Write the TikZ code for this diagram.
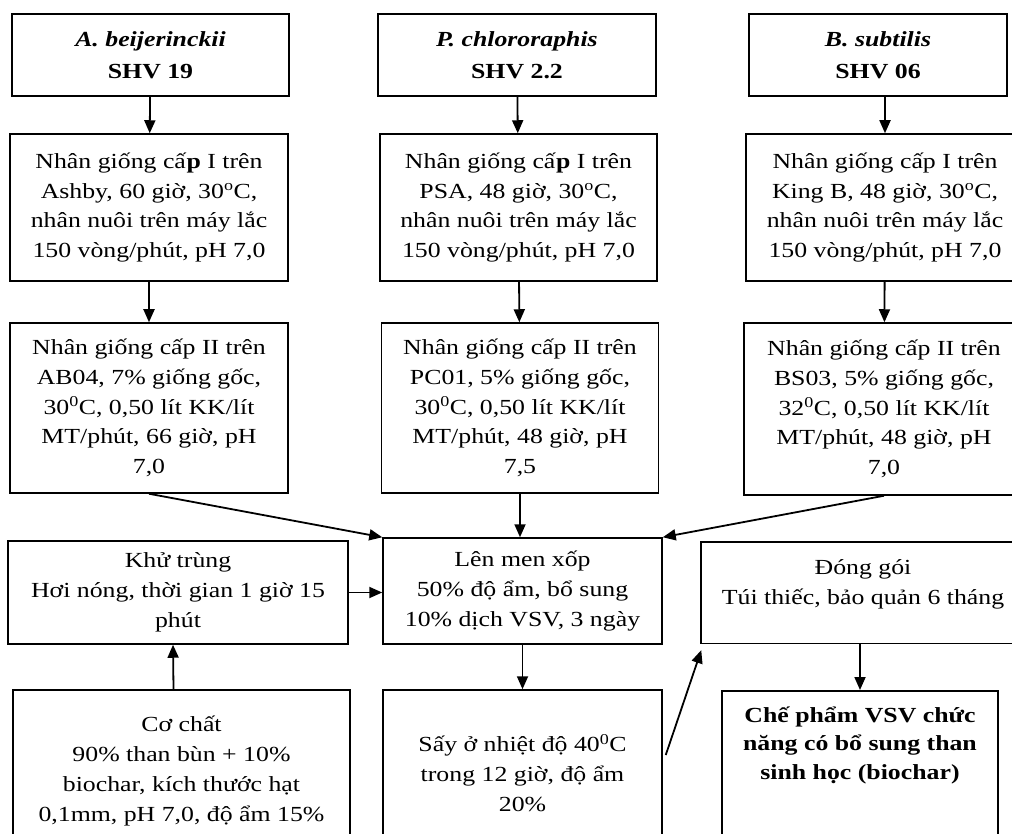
\documentclass[tikz,border=0pt]{standalone}
\usepackage{fontspec}
\setmainfont{Liberation Serif}[FakeStretch=1.2]
\usetikzlibrary{arrows.meta}

\begin{document}
\begin{tikzpicture}[x=1pt, y=-1pt, line width=1.8pt, >={Triangle[length=13pt,width=11pt]}]
                \useasboundingbox (0,0) rectangle (1012,834);
                \clip (0,0) rectangle (1012,834);
                \begin{scope}[
                        every node/.style={draw, line width=1.5pt, align=center, inner sep=0pt,
                            font=\fontsize{21.5}{29.7}\selectfont}
                    ]

                    \node[minimum width=277pt, minimum height=82pt, font=\fontsize{21.5}{32.5}\selectfont\bfseries] (a1) at (150.5,55) {\textit{A. beijerinckii}\\SHV 19};
                    \node[minimum width=278pt, minimum height=82pt, font=\fontsize{21.5}{32.5}\selectfont\bfseries] (p1) at (517,55) {\textit{P. chlororaphis}\\SHV 2.2};
                    \node[minimum width=258pt, minimum height=82pt, font=\fontsize{21.5}{32.5}\selectfont\bfseries] (b1) at (878,55) {\textit{B. subtilis}\\SHV 06};

                    \node[minimum width=278pt, minimum height=147pt] (a2) at (149,207.5) {Nhân giống cấ\textbf{p} I trên\\Ashby, 60 giờ, 30\textsuperscript{o}C,\\nhân nuôi trên máy lắc\\150 vòng/phút, pH 7,0};
                    \node[minimum width=277pt, minimum height=147pt] (p2) at (518.5,207.5) {Nhân giống cấ\textbf{p} I trên\\PSA, 48 giờ, 30\textsuperscript{o}C,\\nhân nuôi trên máy lắc\\150 vòng/phút, pH 7,0};
                    \node[minimum width=278pt, minimum height=147pt] (b2) at (885,207.5) {Nhân giống cấp I trên\\King B, 48 giờ, 30\textsuperscript{o}C,\\nhân nuôi trên máy lắc\\150 vòng/phút, pH 7,0};

                    \node[minimum width=278pt, minimum height=170pt] (a3) at (149,408) {Nhân giống cấp II trên\\AB04, 7\% giống gốc,\\30\textsuperscript{0}C, 0,50 lít KK/lít\\MT/phút, 66 giờ, pH\\7,0};
                    \node[minimum width=277pt, minimum height=170pt] (p3) at (520,408) {Nhân giống cấp II trên\\PC01, 5\% giống gốc,\\30\textsuperscript{0}C, 0,50 lít KK/lít\\MT/phút, 48 giờ, pH\\7,5};
                    \node[minimum width=280pt, minimum height=172pt] (b3) at (884,409) {Nhân giống cấp II trên\\BS03, 5\% giống gốc,\\32\textsuperscript{0}C, 0,50 lít KK/lít\\MT/phút, 48 giờ, pH\\7,0};

                    \node[minimum width=340pt, minimum height=103pt] (khu) at (178,592.5) {Khử trùng\\Hơi nóng, thời gian 1 giờ 15\\phút};
                    \node[minimum width=279pt, minimum height=106pt] (men) at (522.5,591) {Lên men xốp\\50\% độ ẩm, bổ sung\\10\% dịch VSV, 3 ngày};
                    \node[minimum width=324pt, anchor=north, inner ysep=18pt, text depth=21pt] (dong) at (863,541) {Đóng gói\\Túi thiếc, bảo quản 6 tháng};

                    \node[minimum width=337pt, minimum height=162pt] (coche) at (181.5,771) {Cơ chất\\90\% than bùn + 10\%\\biochar, kích thước hạt\\0,1mm, pH 7,0, độ ẩm 15\%};
                    \node[minimum width=279pt, minimum height=166pt] (say) at (522.5,773) {Sấy ở nhiệt độ 40\textsuperscript{0}C\\trong 12 giờ, độ ẩm\\20\%};
                    \node[minimum width=276pt, anchor=north, inner ysep=16pt, text depth=150pt, font=\fontsize{21.5}{28.5}\selectfont\bfseries] (che) at (860,690) {Chế phẩm VSV chức\\năng có bổ sung than\\sinh học (biochar)};
                \end{scope}

                \draw[->] (a1) -- (a2);
                \draw[->] (p1) -- (p2);
                \draw[->] (b1.south -| b2) -- (b2);

                \draw[->] (a2) -- (a3);
                \draw[->] (p2) -- (p3);
                \draw[->] (b2) -- (b3);

                \draw[->] (a3.south) -- (men.north west);
                \draw[->] (p3.south) -- (p3.south |- men.north);
                \draw[->] (b3.south) -- (men.north east);

                \draw[->] (khu.east) -- (men.west |- khu.east);
                \draw[->] ([xshift=-8pt]coche.north) -- ([xshift=-5pt]khu.south);
                \draw[->] (men) -- (say);
                \draw[->] ([shift={(3pt,18pt)}]say.east) -- ([shift={(1pt,-6pt)}]dong.south west);
                \draw[->] (dong.south -| che) -- (che);
            \end{tikzpicture}
\end{document}
